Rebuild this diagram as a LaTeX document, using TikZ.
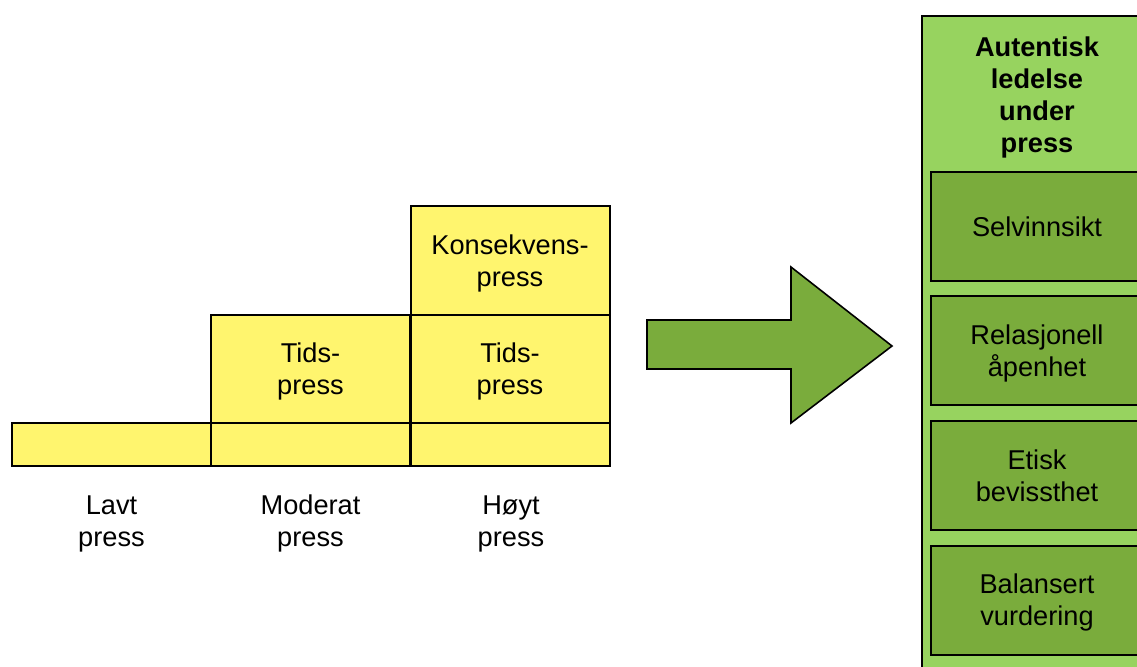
\documentclass[tikz,border=0pt]{standalone}
\usepackage{fontspec}
\setmainfont{Liberation Sans}
\definecolor{ylw}{RGB}{255,245,110}
\definecolor{lgreen}{RGB}{151,211,95}
\definecolor{dgreen}{RGB}{122,172,60}
\newcommand\tstr{\rule[-3.1pt]{0pt}{16pt}}
\begin{document}
\begin{tikzpicture}[x=0.5pt,y=-0.5pt,
  txt/.style={font=\fontsize{13.6}{16}\selectfont, align=center, inner sep=0pt},
  ycell/.style={txt, draw=black, line width=1pt, fill=ylw, minimum width=99.5pt},
  gcell/.style={txt, draw=black, line width=1pt, fill=dgreen, minimum width=106pt, minimum height=54.5pt},
  outerbox/.style={draw=black, line width=1pt, fill=lgreen, minimum width=115pt, minimum height=342pt, inner sep=0pt},
  bigarrow/.style={draw=black, line width=0.8pt, fill=dgreen, line join=miter}]
\useasboundingbox (0,0) rectangle (1137,666);
\clip (0,0) rectangle (1137,666);
% yellow staircase
\node[ycell, minimum height=21.5pt] (b1) at (111.5,444.5) {};
\node[ycell, minimum height=21.5pt] (b2) at (310.5,444.5) {};
\node[ycell, minimum height=21.5pt] (b3) at (510,444.5) {};
\node[ycell, minimum height=54pt] (m2) at (310.5,369) {Tids-\tstr\\press\tstr};
\node[ycell, minimum height=54pt] (m3) at (510,369) {Tids-\tstr\\press\tstr};
\node[ycell, minimum height=54.5pt] (t3) at (510,260.5) {Konsekvens-\tstr\\press\tstr};
% labels
\node[txt] (l1) at (111.5,521) {Lavt\tstr\\press\tstr};
\node[txt] (l2) at (310.5,521) {Moderat\tstr\\press\tstr};
\node[txt] (l3) at (511,521) {Høyt\tstr\\press\tstr};
% arrow
\draw[bigarrow] (647,320) -- (791,320) -- (791,267) -- (892,346) -- (791,423) -- (791,369) -- (647,369) -- cycle;
% right column
\node[outerbox] (outer) at (1037,358) {};
\node[txt, font=\fontsize{13.6}{16}\selectfont\bfseries] (title) at (1037,95) {Autentisk\tstr\\ledelse\tstr\\under\tstr\\press\tstr};
\node[gcell] (g1) at (1037,226.5) {Selvinnsikt\tstr};
\node[gcell] (g2) at (1037,350.5) {Relasjonell\tstr\\åpenhet\tstr};
\node[gcell] (g3) at (1037,475.5) {Etisk\tstr\\bevissthet\tstr};
\node[gcell] (g4) at (1037,600) {Balansert\tstr\\vurdering\tstr};
\end{tikzpicture}
\end{document}
